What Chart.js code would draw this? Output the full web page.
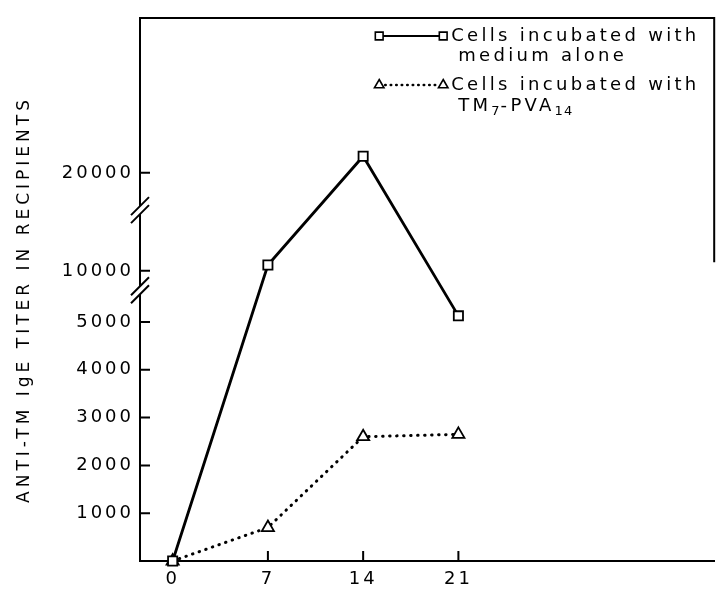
<!DOCTYPE html>
<html>
<head>
<meta charset="utf-8">
<script src="https://cdn.jsdelivr.net/npm/chart.js@4.4.1/dist/chart.umd.min.js"></script>
<style>
  html, body { margin: 0; padding: 0; background: #fff; }
</style>
</head>
<body>
<canvas id="chart" width="723" height="590"></canvas>
<script>
const days = [0, 7, 14, 21];
const dayTicks = [0, 7, 14, 21];
const mediumAlone = [0, 10600, 21700, 5600];
const tmPva = [0, 700, 2600, 2650];
const titerTicks = [1000, 2000, 3000, 4000, 5000, 10000, 20000];
const axisBreaks = [8100, 16200];
const yTitle = 'ANTI-TM IgE TITER IN RECIPIENTS';

const FONT = "'DejaVu Sans', 'Liberation Sans', Arial, sans-serif";

// broken titer axis: 0-5000 is linear, above that the scale gets squeezed
function toAxis(v) {
    if (v <= 5000) return v;
    if (v <= 10000) return 5000 + (v - 5000) * 0.214;
    return 6070 + (v - 10000) * 0.205;
}

const decor = {
    id: 'decor',
    beforeUpdate(c) { c.ctx.letterSpacing = '3px'; },
    beforeDraw(c) { c.ctx.letterSpacing = '3px'; },
    afterDraw(c) {
        const ctx = c.ctx;
        const a = c.chartArea;
        const x = c.scales.x, y = c.scales.y;
        ctx.save();
        ctx.strokeStyle = '#000';
        ctx.lineWidth = 2;

        // ticks point inward
        ctx.beginPath();
        titerTicks.forEach(t => {
            const py = y.getPixelForValue(toAxis(t));
            ctx.moveTo(a.left, py);
            ctx.lineTo(a.left + 10, py);
        });
        dayTicks.filter(d => d > 0).forEach(d => {
            const px = x.getPixelForValue(d);
            ctx.moveTo(px, a.bottom);
            ctx.lineTo(px, a.bottom - 10);
        });
        // frame top + part of right side
        ctx.moveTo(a.left, a.top);
        ctx.lineTo(a.right, a.top);
        ctx.lineTo(a.right, a.top + (a.bottom - a.top) * 0.45);
        ctx.stroke();

        // axis breaks
        axisBreaks.forEach(b => {
            const py = y.getPixelForValue(toAxis(b));
            ctx.fillStyle = '#fff';
            ctx.fillRect(a.left - 3, py - 4, 6, 8);
            ctx.beginPath();
            ctx.lineWidth = 2;
            [-4, 4].forEach(o => {
                ctx.moveTo(a.left - 9, py + o + 9);
                ctx.lineTo(a.left + 9, py + o - 9);
            });
            ctx.stroke();
        });

        // y title, drawn by hand so it can get its own spacing
        ctx.save();
        ctx.translate(25, (a.top + a.bottom) / 2 + 12);
        ctx.rotate(-Math.PI / 2);
        ctx.fillStyle = '#000';
        ctx.font = '17px ' + FONT;
        ctx.letterSpacing = '4px';
        ctx.textAlign = 'center';
        ctx.textBaseline = 'middle';
        ctx.fillText(yTitle, 2, 0);
        ctx.restore();

        // legend
        const lx0 = a.right - 335, lx1 = a.right - 271, tx = a.right - 263;
        const r1 = a.top + 18, r2 = a.top + 67;
        ctx.lineWidth = 2.2;
        ctx.setLineDash([]);
        ctx.beginPath();
        ctx.moveTo(lx0, r1);
        ctx.lineTo(lx1, r1);
        ctx.stroke();
        ctx.lineWidth = 2.5;
        ctx.lineCap = 'round';
        ctx.setLineDash([0.5, 5]);
        ctx.beginPath();
        ctx.moveTo(lx0 + 6, r2);
        ctx.lineTo(lx1 - 6, r2);
        ctx.stroke();
        ctx.setLineDash([]);
        ctx.fillStyle = '#fff';
        ctx.lineWidth = 1.6;
        [lx0, lx1].forEach(px => {
            Chart.helpers.drawPoint(ctx, {pointStyle: 'rect', radius: 5.5, rotation: 0, borderWidth: 1.6}, px, r1);
            Chart.helpers.drawPoint(ctx, {pointStyle: 'triangle', radius: 5.5, rotation: 0, borderWidth: 1.6}, px, r2);
        });

        ctx.fillStyle = '#000';
        ctx.textBaseline = 'middle';
        ctx.textAlign = 'left';
        ctx.font = '18px ' + FONT;
        ctx.letterSpacing = '3.3px';
        ctx.fillText('Cells incubated with', tx, r1);
        ctx.fillText('medium alone', tx + 7, r1 + 20);
        ctx.fillText('Cells incubated with', tx, r2);
        // TM7-PVA14 with subscripts
        let cx = tx + 7;
        const r3 = r2 + 21;
        [['TM', 0], ['7', 1], ['-PVA', 0], ['14', 1]].forEach(([s, sub]) => {
            ctx.font = (sub ? '13px ' : '18px ') + FONT;
            ctx.letterSpacing = sub ? '1px' : '3.3px';
            ctx.fillText(s, cx, sub ? r3 + 6 : r3);
            cx += ctx.measureText(s).width;
        });
        ctx.restore();
    }
};

new Chart(document.getElementById('chart'), {
    type: 'line',
    data: {
        datasets: [{
            label: 'Cells incubated with medium alone',
            data: days.map((d, i) => ({x: d, y: toAxis(mediumAlone[i])})),
            borderColor: '#000',
            borderWidth: 2.8,
            pointStyle: 'rect',
            pointRadius: 6.5,
            pointBackgroundColor: '#fff',
            pointBorderColor: '#000',
            pointBorderWidth: 1.8,
            tension: 0,
            clip: false
        }, {
            label: 'Cells incubated with TM7-PVA14',
            data: days.map((d, i) => ({x: d, y: toAxis(tmPva[i])})),
            borderColor: '#000',
            borderWidth: 3,
            borderDash: [0.5, 6.5],
            borderCapStyle: 'round',
            pointStyle: 'triangle',
            pointRadius: 7,
            pointBackgroundColor: '#fff',
            pointBorderColor: '#000',
            pointBorderWidth: 1.8,
            tension: 0,
            clip: false
        }]
    },
    options: {
        responsive: false,
        devicePixelRatio: 1,
        animation: false,
        layout: {padding: {top: 18, right: 5, left: 0, bottom: 0}},
        plugins: {legend: {display: false}, tooltip: {enabled: false}},
        scales: {
            x: {
                type: 'linear',
                min: -2.4,
                max: 39.8,
                afterBuildTicks: s => { s.ticks = dayTicks.map(v => ({value: v})); },
                afterFit: s => { s.height = 29; },
                grid: {drawOnChartArea: false, drawTicks: false},
                border: {color: '#000', width: 2},
                ticks: {
                    color: '#000',
                    font: {family: FONT, size: 18},
                    padding: 8,
                    autoSkip: false,
                    maxRotation: 0,
                    callback: v => String(v)
                }
            },
            y: {
                type: 'linear',
                min: 0,
                max: 11360,
                afterBuildTicks: s => { s.ticks = titerTicks.map(v => ({value: toAxis(v)})); },
                afterFit: s => { s.width = 140; },
                grid: {drawOnChartArea: false, drawTicks: false},
                border: {color: '#000', width: 2},
                ticks: {
                    color: '#000',
                    font: {family: FONT, size: 18},
                    padding: 6,
                    autoSkip: false,
                    callback: v => {
                        const t = titerTicks.find(t => Math.abs(toAxis(t) - v) < 1);
                        return t ? String(t) : '';
                    }
                }
            }
        }
    },
    plugins: [decor]
});
</script>
</body>
</html>
